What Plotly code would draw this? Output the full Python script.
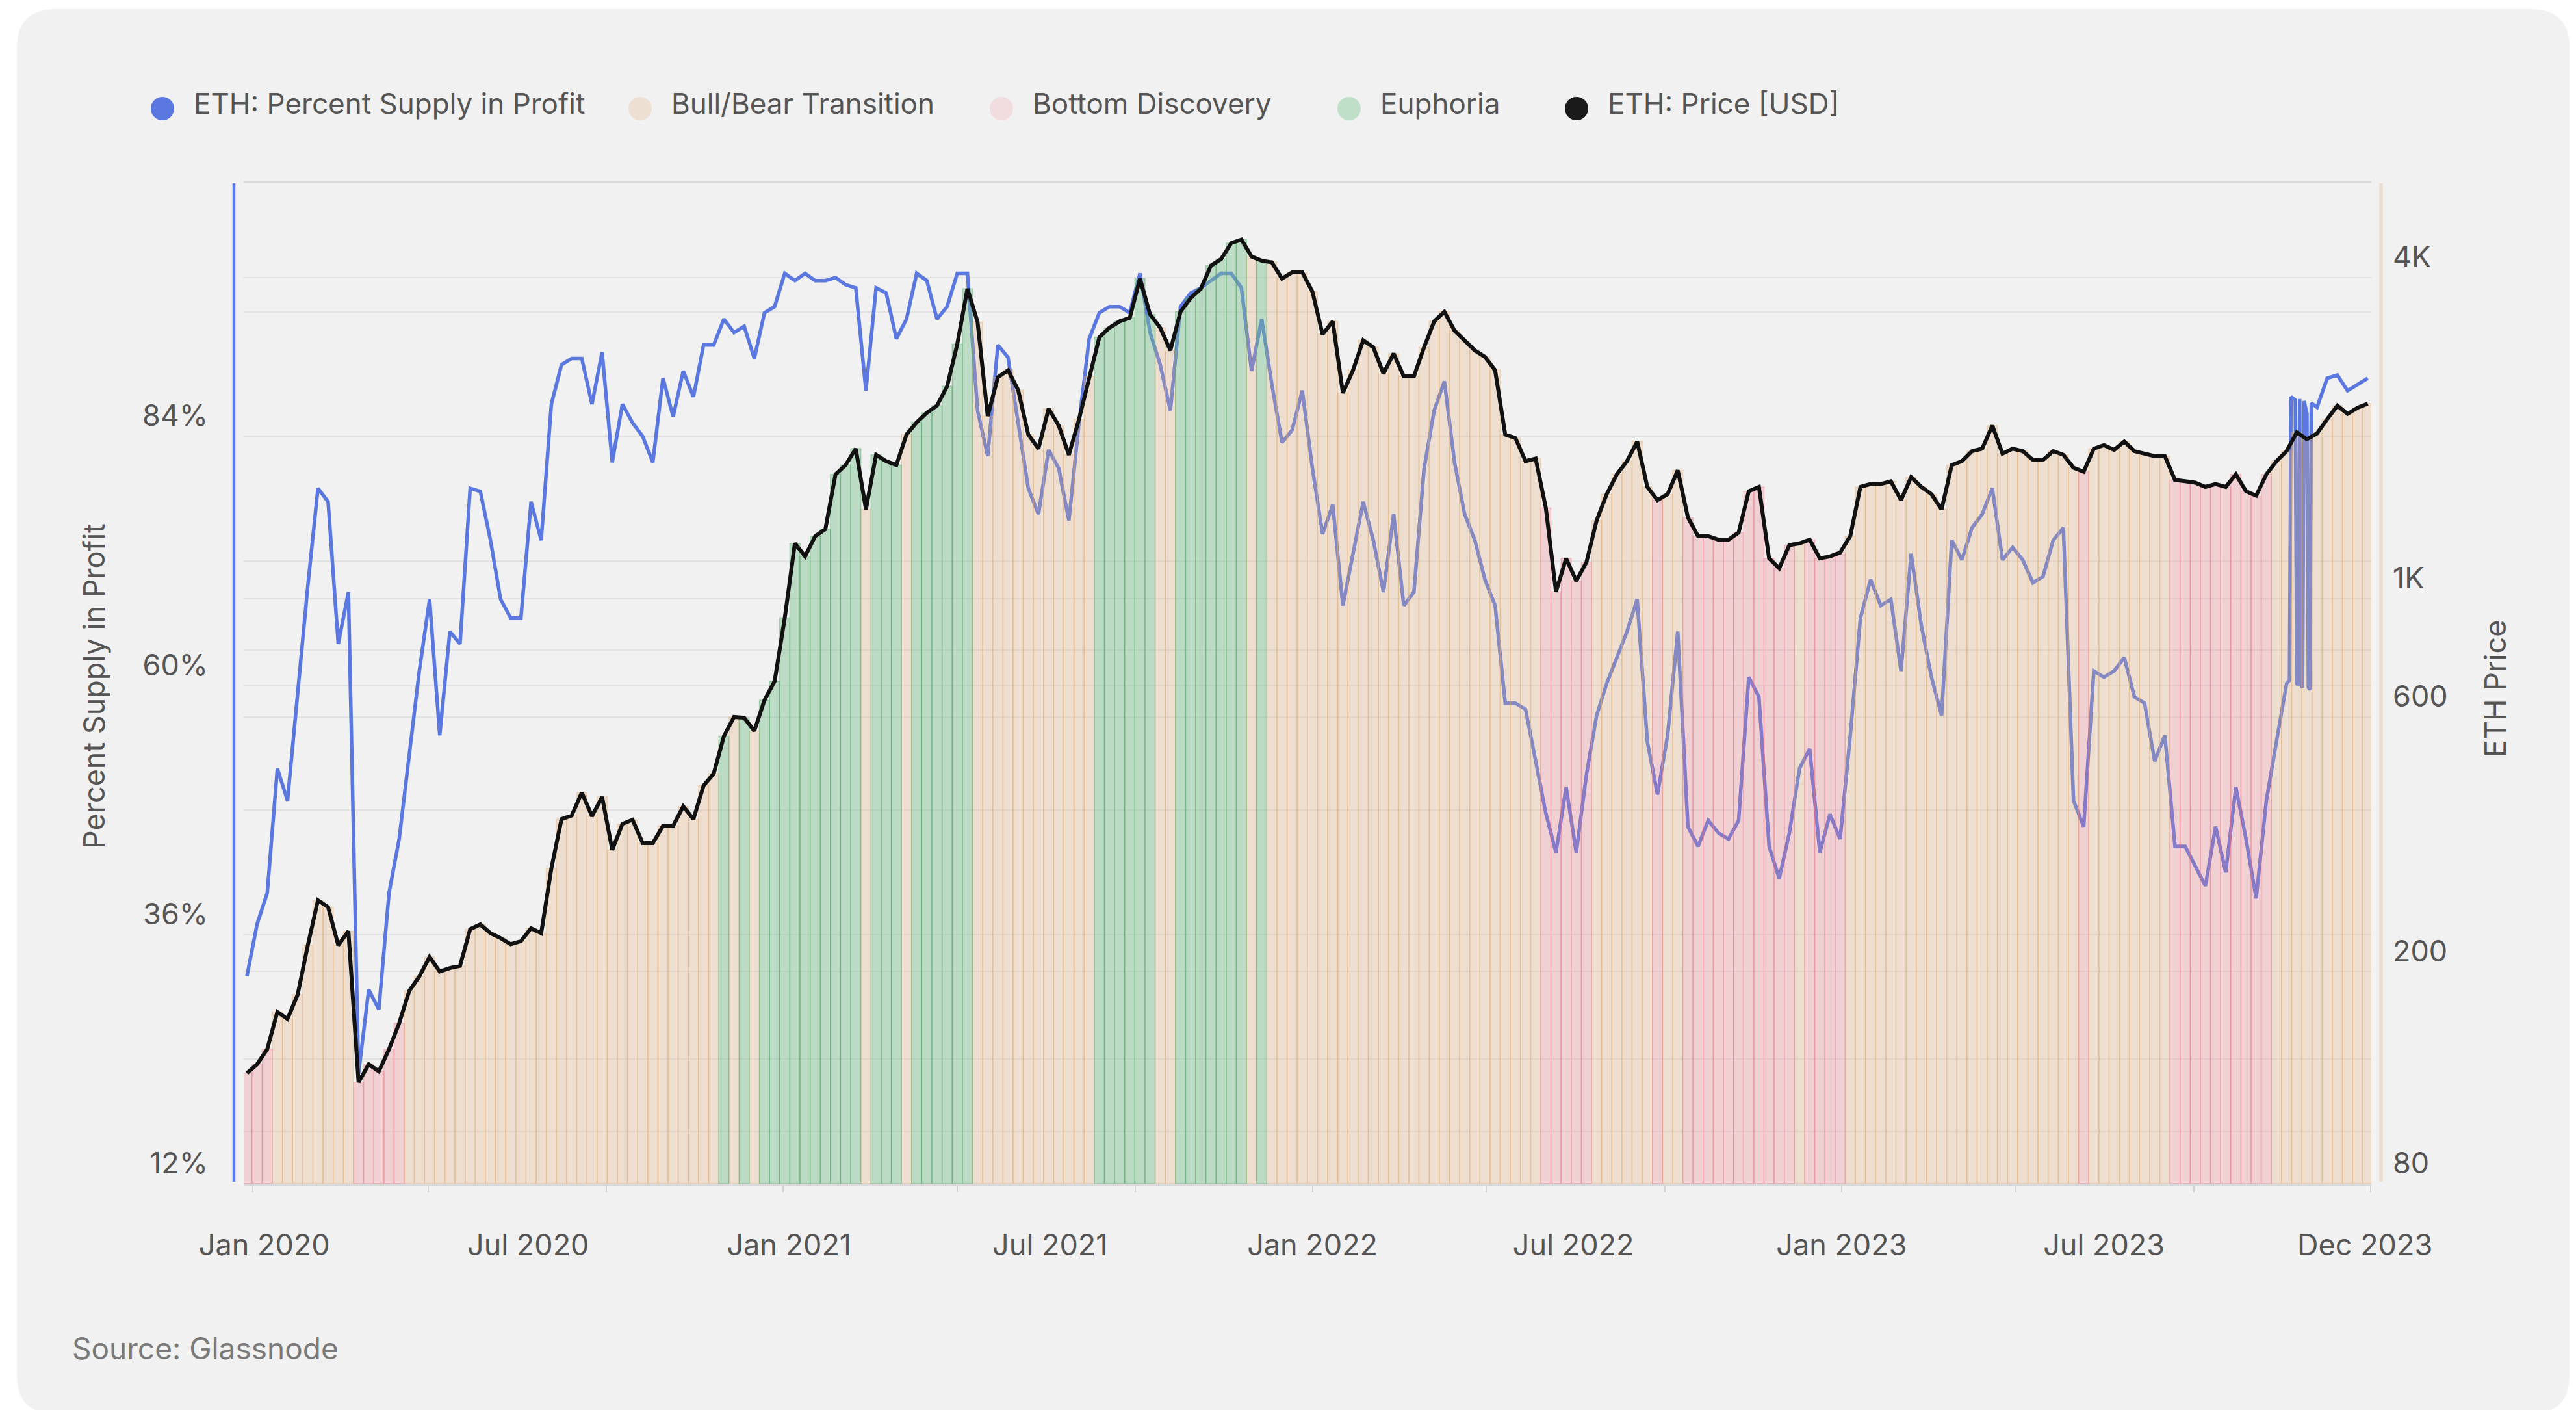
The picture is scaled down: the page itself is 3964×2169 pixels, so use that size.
import math
import pandas as pd
import plotly.graph_objects as go

# ---------------- data (weekly samples) ----------------
start_date = "2019-12-28"
n_weeks = 210

supply_pct = [
    32.0, 37.0, 40.0, 52.0, 48.9, 59.5, 69.6, 79.0, 77.7, 64.0,
    69.0, 22.6, 30.7, 28.8, 40.0, 45.2, 53.5, 61.5, 68.3, 55.2,
    65.2, 64.0, 79.0, 78.7, 74.0, 68.3, 66.5, 66.5, 77.7, 74.0,
    87.1, 90.9, 91.5, 91.5, 87.1, 92.1, 81.5, 87.1, 85.3, 84.0,
    81.5, 89.6, 85.9, 90.3, 87.8, 92.8, 92.8, 95.3, 94.0, 94.6,
    91.5, 95.9, 96.5, 99.7, 99.0, 99.7, 99.0, 99.0, 99.3, 98.6,
    98.3, 88.4, 98.3, 97.8, 93.4, 95.3, 99.7, 99.0, 95.3, 96.5,
    99.7, 99.7, 86.5, 82.1, 92.8, 91.6, 85.3, 79.0, 76.5, 82.7,
    80.9, 75.9, 85.3, 93.4, 95.9, 96.5, 96.5, 95.9, 99.7, 94.0,
    90.9, 86.5, 96.5, 97.8, 98.3, 99.0, 99.7, 99.7, 98.3, 90.3,
    95.3, 89.0, 83.4, 84.6, 88.4, 80.9, 74.6, 77.4, 67.7, 72.7,
    77.7, 74.0, 69.0, 76.5, 67.7, 69.0, 80.9, 86.5, 89.3, 81.5,
    76.5, 74.0, 70.2, 67.7, 58.3, 58.3, 57.7, 52.7, 47.7, 43.9,
    50.2, 43.9, 51.4, 57.1, 60.2, 62.7, 65.2, 68.3, 54.6, 49.5,
    55.2, 65.2, 46.4, 44.5, 47.0, 45.8, 45.2, 47.0, 60.8, 58.9,
    44.5, 41.4, 45.8, 52.0, 53.9, 43.9, 47.6, 45.2, 55.2, 66.5,
    70.2, 67.7, 68.3, 61.4, 72.7, 65.8, 60.8, 57.1, 74.0, 72.1,
    75.2, 76.5, 79.0, 72.1, 73.3, 72.1, 69.9, 70.5, 74.0, 75.2,
    48.9, 46.4, 61.4, 60.8, 61.4, 62.7, 58.9, 58.3, 52.7, 55.2,
    44.5, 44.5, 42.6, 40.7, 46.4, 42.0, 50.2, 45.2, 39.5, 48.9,
    54.6, 60.2, 86.5, 86.2, 86.8, 89.6, 89.9, 88.4, 89.0, 89.6,
]

# daily spikes in Nov 2023 (percent supply in profit)
spike_dates = ["2023-11-06", "2023-11-07", "2023-11-10", "2023-11-11", "2023-11-12",
               "2023-11-13", "2023-11-14", "2023-11-15", "2023-11-16", "2023-11-19",
               "2023-11-20", "2023-11-21"]
spike_pct = [60.5, 87.8, 87.5, 60.2, 60.0, 87.6, 60.0, 59.8, 87.4, 59.8, 59.6, 87.2]

eth_price = [
    129, 134, 143, 168, 163, 181, 224, 272, 264, 224,
    238, 124, 134, 130, 143, 160, 184, 196, 213, 200,
    203, 205, 240, 245, 236, 231, 225, 228, 241, 236,
    312, 386, 392, 433, 391, 425, 338, 378, 385, 348,
    348, 375, 375, 408, 386, 446, 470, 552, 600, 598,
    565, 645, 700, 920, 1270, 1200, 1310, 1350, 1710, 1780,
    1910, 1470, 1860, 1810, 1780, 2030, 2140, 2230, 2300, 2500,
    3000, 3810, 3300, 2200, 2600, 2680, 2460, 2030, 1910, 2270,
    2110, 1860, 2170, 2610, 3090, 3220, 3310, 3360, 3980, 3410,
    3220, 2920, 3450, 3660, 3810, 4210, 4330, 4640, 4710, 4380,
    4300, 4270, 3980, 4090, 4090, 3760, 3130, 3310, 2430, 2680,
    3050, 2960, 2640, 2880, 2610, 2610, 2960, 3310, 3450, 3180,
    3040, 2920, 2840, 2680, 2030, 2000, 1810, 1830, 1480, 1030,
    1190, 1080, 1170, 1400, 1570, 1710, 1810, 1970, 1620, 1530,
    1570, 1740, 1420, 1310, 1310, 1290, 1290, 1330, 1590, 1620,
    1190, 1140, 1260, 1270, 1290, 1190, 1200, 1220, 1310, 1620,
    1640, 1640, 1660, 1530, 1690, 1620, 1570, 1470, 1780, 1810,
    1890, 1910, 2110, 1870, 1910, 1890, 1820, 1820, 1890, 1860,
    1760, 1730, 1910, 1940, 1900, 1970, 1890, 1870, 1850, 1850,
    1670, 1660, 1650, 1620, 1640, 1620, 1710, 1590, 1560, 1710,
    1810, 1890, 2050, 1990, 2040, 2170, 2300, 2220, 2280, 2320,
]

# weekly market regime: T = Bull/Bear Transition, B = Bottom Discovery, E = Euphoria
regime = (
    "BBBTTTTTTT" "TBBBBBTTTT" "TTTTTTTTTT" "TTTTTTTTTT" "TTTTTTTETE"
    "TEEEEEEEEE" "ETEEETEEEE" "EETTTTTTTT" "TTTTEEEEEE" "TTEEEEEEET"
    "ETTTTTTTTT" "TTTTTTTTTT" "TTTTTTTTBB" "BBBTTTTTTB" "TTBBBBBBBB"
    "BBBTBBBBTT" "TTTTTTTTTT" "TTTTTTTTTT" "TBTTTTTTTT" "BBBBBBBBBB"
    "TTTTTTTTTT"
)

x_tick_dates = ["2020-01-09", "2020-07-09", "2021-01-05", "2021-07-04", "2022-01-01",
                "2022-06-30", "2023-01-01", "2023-07-01", "2023-12-28"]
x_tick_text = ["Jan 2020", "Jul 2020", "Jan 2021", "Jul 2021", "Jan 2022",
               "Jul 2022", "Jan 2023", "Jul 2023", "Dec 2023"]

pct_ticks = [12, 24, 36, 48, 60, 72, 84, 96]
pct_text = ["12%", "", "36%", "", "60%", "", "84%", ""]
price_ticks = [80, 100, 200, 600, 800, 1000, 4000]
price_text = ["80", "", "200", "600", "", "1K", "4K"]

# ---------------- geometry / style ----------------
W, H = 3964, 2169
PL, PR, PT, PB = 367, 3641, 272, 1813  # plot area in pixels
FONT = "Inter"
TXT = "#555555"
BLUE = "#5b78e0"

def xp(px):
    return (px - PL) / (PR - PL)

def yp(py):
    return (PB - py) / (PB - PT)

dates = pd.date_range(start_date, periods=n_weeks, freq="7D")
supply = pd.Series(supply_pct, index=dates)
spk = pd.Series(spike_pct, index=pd.to_datetime(spike_dates))
supply = pd.concat([supply.drop(spk.index, errors="ignore"), spk]).sort_index()

base_price = 80
week_ms = 7 * 24 * 3600 * 1000

fig = go.Figure()

fig.add_trace(go.Scatter(
    x=supply.index, y=supply.values, mode="lines", yaxis="y",
    line=dict(color=BLUE, width=5.5), name="ETH: Percent Supply in Profit",
    showlegend=False))

regime_styles = {
    "T": ("Bull/Bear Transition", "rgba(230,180,130,0.30)", "rgba(225,165,100,0.35)"),
    "B": ("Bottom Discovery", "rgba(238,131,141,0.30)", "rgba(232,110,125,0.35)"),
    "E": ("Euphoria", "rgba(125,194,141,0.45)", "rgba(70,160,95,0.40)"),
}
for code, (nm, fc, lc) in regime_styles.items():
    yv = [p - base_price if r == code else None for p, r in zip(eth_price, regime)]
    fig.add_trace(go.Bar(
        x=dates, y=yv, base=base_price, width=week_ms, yaxis="y2", name=nm,
        marker=dict(color=fc, line=dict(color=lc, width=1.5)), showlegend=False))

fig.add_trace(go.Scatter(
    x=dates, y=eth_price, mode="lines", yaxis="y2",
    line=dict(color="#111111", width=6), name="ETH: Price [USD]", showlegend=False))

# ---------------- shapes ----------------
shapes = []
x0, y0, x1, y1, r = 18, 6, 3946, 2167, 60
pts = [
    ("M", (x0 + r, y0)), ("L", (x1 - r, y0)), ("Q", (x1, y0), (x1, y0 + r)),
    ("L", (x1, y1 - r)), ("Q", (x1, y1), (x1 - r, y1)), ("L", (x0 + r, y1)),
    ("Q", (x0, y1), (x0, y1 - r)), ("L", (x0, y0 + r)), ("Q", (x0, y0), (x0 + r, y0)),
]
path = ""
for item in pts:
    cmd = item[0]
    coords = " ".join(f"{xp(a):.6f},{yp(b):.6f}" for a, b in item[1:])
    path += f"{cmd} {coords} "
path += "Z"
shapes.append(dict(type="path", path=path, xref="paper", yref="paper",
                   fillcolor="#f1f1f1", line=dict(width=0), layer="below"))
# top frame line
shapes.append(dict(type="line", xref="paper", yref="paper", x0=0, x1=1, y0=1, y1=1,
                   line=dict(color="#dadada", width=3), layer="above"))
# left (blue) and right (tan) axis lines
shapes.append(dict(type="line", xref="paper", yref="paper", x0=xp(352), x1=xp(352),
                   y0=yp(1810), y1=yp(274), line=dict(color=BLUE, width=4.5)))
shapes.append(dict(type="line", xref="paper", yref="paper", x0=xp(3656), x1=xp(3656),
                   y0=yp(1810), y1=yp(274), line=dict(color="#ecdccb", width=5)))

# legend
legend_items = [
    ("ETH: Percent Supply in Profit", BLUE, 242),
    ("Bull/Bear Transition", "#ede0d3", 977),
    ("Bottom Discovery", "#f1dcdf", 1533),
    ("Euphoria", "#bfdfc8", 2068),
    ("ETH: Price [USD]", "#1a1a1a", 2418),
]
annotations = []
for label, col, cx in legend_items:
    shapes.append(dict(type="circle", xref="paper", yref="paper",
                       xsizemode="pixel", ysizemode="pixel",
                       xanchor=xp(cx), yanchor=yp(159), x0=-18, x1=18, y0=-18, y1=18,
                       fillcolor=col, line=dict(width=0)))
    annotations.append(dict(text=label, xref="paper", yref="paper", x=xp(cx + 46), y=yp(151),
                            xanchor="left", yanchor="middle", showarrow=False,
                            font=dict(family=FONT, size=44, color=TXT)))

annotations.append(dict(text="Percent Supply in Profit", xref="paper", yref="paper",
                        x=xp(136), y=yp(1048), textangle=-90, showarrow=False,
                        xanchor="center", yanchor="middle",
                        font=dict(family=FONT, size=45, color=TXT)))
annotations.append(dict(text="ETH Price", xref="paper", yref="paper",
                        x=xp(3831), y=yp(1051), textangle=-90, showarrow=False,
                        xanchor="center", yanchor="middle",
                        font=dict(family=FONT, size=45, color=TXT)))
annotations.append(dict(text="Source: Glassnode", xref="paper", yref="paper",
                        x=xp(101), y=yp(2066), showarrow=False,
                        xanchor="left", yanchor="middle",
                        font=dict(family=FONT, size=46, color="#7a7a7a")))

minor_ticks = pd.date_range("2020-01-01", "2024-01-01", freq="4MS")

fig.update_layout(
    width=W, height=H,
    margin=dict(l=PL, r=W - PR, t=PT, b=H - PB, pad=0),
    paper_bgcolor="white", plot_bgcolor="rgba(0,0,0,0)",
    barmode="overlay", showlegend=False,
    font=dict(family=FONT, size=45, color=TXT),
    shapes=shapes, annotations=annotations,
    xaxis=dict(
        type="date", range=["2019-12-25 18:30", "2024-01-01 10:00"],
        showgrid=False, zeroline=False, showline=True, linecolor="#d9d9d9", linewidth=3,
        tickvals=x_tick_dates, ticktext=x_tick_text, ticks="",
        ticklabelstandoff=53, tickfont=dict(family=FONT, size=45, color=TXT),
        minor=dict(tickvals=list(minor_ticks), ticks="outside", ticklen=10,
                   tickcolor="#d4d4d4", tickwidth=2, showgrid=False),
    ),
    yaxis=dict(
        range=[12, 108.5], tickvals=pct_ticks, ticktext=pct_text,
        showgrid=True, gridcolor="#e2e2e2", gridwidth=2, zeroline=False, showline=False,
        ticks="", ticklabelposition="outside top", ticklabelstandoff=54,
        tickfont=dict(family=FONT, size=45, color=TXT),
    ),
    yaxis2=dict(
        type="log", overlaying="y", side="right",
        range=[math.log10(80), math.log10(6040)],
        tickvals=price_ticks, ticktext=price_text,
        showgrid=True, gridcolor="#e2e2e2", gridwidth=2, zeroline=False, showline=False,
        ticks="", ticklabelposition="outside top", ticklabelstandoff=32,
        tickfont=dict(family=FONT, size=45, color=TXT),
    ),
)

fig.write_html("out.html")
